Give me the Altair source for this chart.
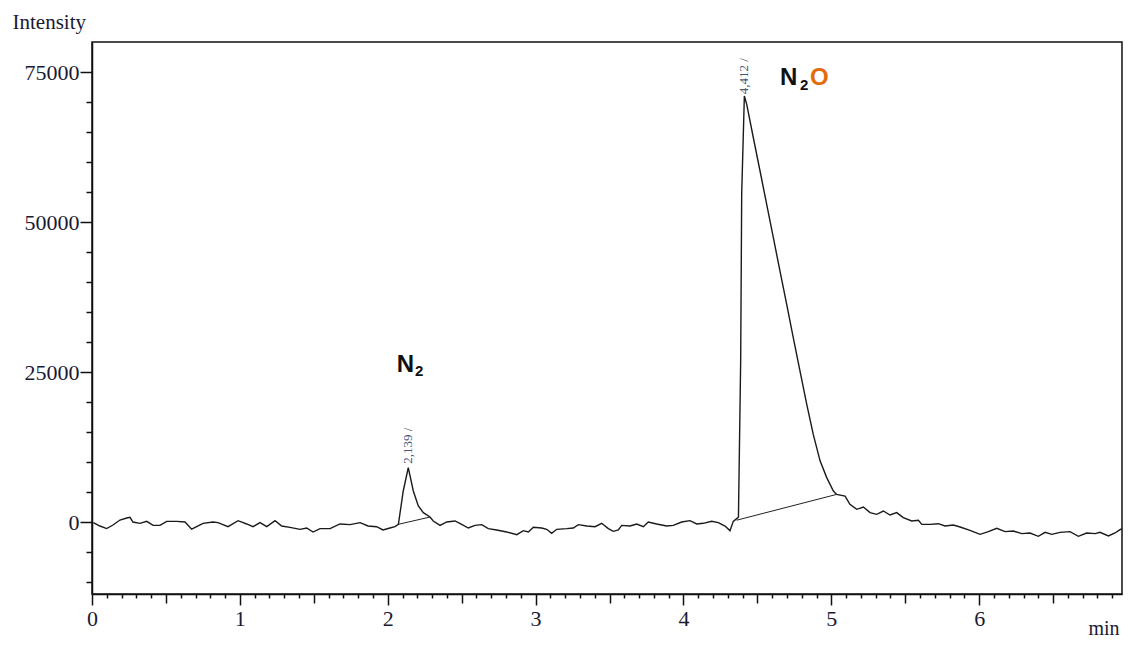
import altair as alt
import pandas as pd

# ---- chromatogram trace (min, intensity) ----
time_min = [0.009, 0.054, 0.099, 0.142, 0.189, 0.235, 0.257, 0.277, 0.325, 0.370,
            0.413, 0.460, 0.505, 0.573, 0.629, 0.674, 0.708, 0.751, 0.818, 0.852,
            0.920, 0.988, 1.046, 1.089, 1.136, 1.182, 1.238, 1.283, 1.339, 1.407,
            1.452, 1.495, 1.542, 1.610, 1.677, 1.745, 1.813, 1.867, 1.925, 1.968,
            2.015, 2.049, 2.072, 2.105, 2.139, 2.173, 2.207, 2.241, 2.286, 2.308,
            2.354, 2.399, 2.455, 2.500, 2.545, 2.590, 2.636, 2.680, 2.737, 2.805,
            2.873, 2.917, 2.951, 2.985, 3.041, 3.075, 3.109, 3.143, 3.210, 3.255,
            3.289, 3.346, 3.402, 3.447, 3.492, 3.526, 3.560, 3.582, 3.639, 3.684,
            3.729, 3.762, 3.819, 3.887, 3.931, 3.988, 4.044, 4.090, 4.134, 4.191,
            4.236, 4.281, 4.315, 4.337, 4.360, 4.372, 4.387, 4.394, 4.412, 4.428,
            4.473, 4.518, 4.563, 4.608, 4.653, 4.698, 4.743, 4.788, 4.834, 4.878,
            4.924, 4.969, 5.014, 5.036, 5.093, 5.126, 5.172, 5.217, 5.262, 5.307,
            5.352, 5.397, 5.442, 5.487, 5.544, 5.589, 5.612, 5.668, 5.724, 5.769,
            5.825, 5.871, 5.938, 6.006, 6.062, 6.119, 6.175, 6.231, 6.288, 6.344,
            6.400, 6.446, 6.491, 6.547, 6.614, 6.671, 6.727, 6.784, 6.817, 6.874,
            6.919, 6.950, 6.966]
intensity = [-100, -670, -1100, -500, 330, 670, 780, 0, -220, 110,
             -560, -560, 110, 110, 0, -1200, -780, -220, 0, -110,
             -780, 220, -330, -780, -110, -780, 220, -670, -890, -1220,
             -1000, -1670, -1110, -1110, -330, -440, -110, -670, -780, -1330,
             -1000, -780, -390, 5170, 9050, 5170, 2670, 1560, 830, 170,
             -560, 0, 170, -390, -1000, -560, -440, -1110, -1330, -1670,
             -2110, -1440, -1670, -890, -1000, -1220, -1890, -1220, -1110, -1000,
             -440, -670, -780, -220, -1110, -1560, -1330, -560, -670, -330,
             -780, 0, -330, -670, -560, 0, 220, -330, -220, 110,
             -110, -670, -1440, 110, 560, 800, 26800, 54700, 71000, 69600,
             64000, 58500, 52950, 47400, 41800, 36300, 30700, 25200, 19600, 14600,
             10200, 7400, 5170, 4600, 4330, 2950, 2110, 2500, 1560, 1280,
             1830, 1170, 1560, 720, 170, 280, -390, -390, -280, -670,
             -500, -830, -1390, -2050, -1610, -1060, -1610, -1500, -1940, -1830,
             -2390, -1720, -2060, -1720, -1610, -2390, -1830, -1940, -1720, -2330,
             -1830, -1300, -1100]

# ---- integration baselines under the peaks ----
bl_peak = ["N2", "N2", "N2O", "N2O"]
bl_time = [2.072, 2.286, 4.360, 5.036]
bl_value = [-390, 830, 300, 4600]

# ---- retention-time labels ----
rt_time = [2.139, 4.412]
rt_value = [9700, 71300]
rt_text = ["2,139 /", "4,412 /"]

# ---- compound labels (N2 and N2O) ----
big_text = ["N", "N", "O"]
big_time = [2.061, 4.653, 4.856]
big_value = [25050, 72830, 72830]
big_color = ["#111111", "#111111", "#E36C09"]
sub_text = ["2", "2"]
sub_time = [2.184, 4.788]
sub_value = [24330, 72000]

x_ticks = [round(i * 0.1, 1) for i in range(70)]
y_ticks = list(range(-10000, 80000, 5000))

trace = pd.DataFrame({"t": time_min, "v": intensity})
base = pd.DataFrame({"peak": bl_peak, "t": bl_time, "v": bl_value})
rts = pd.DataFrame({"t": rt_time, "v": rt_value, "txt": rt_text})
bigs = pd.DataFrame({"t": big_time, "v": big_value, "txt": big_text, "c": big_color})
subs = pd.DataFrame({"t": sub_time, "v": sub_value, "txt": sub_text})

SERIF = "Liberation Serif"
TXT = "#1a1a33"

x_scale = alt.Scale(domain=[0, 6.966], nice=False, zero=False)
y_scale = alt.Scale(domain=[-12000, 80000], nice=False, zero=False)

x_axis = alt.Axis(
    values=x_ticks, tickCount=500,
    labelExpr="round(datum.value*10) % 10 === 0 ? format(datum.value, 'd') : ''",
    tickSize={"condition": [
        {"test": "round(datum.value*10) % 10 === 0", "value": 11},
        {"test": "round(datum.value*10) % 5 === 0", "value": 9}],
        "value": 4},
    tickColor="#111111", tickWidth=1.5, domainColor="#111111", domainWidth=1.5,
    labelFont=SERIF, labelFontSize=22, labelColor=TXT, labelPadding=3,
    labelFlush=False, labelOverlap=False, labelBound=False, grid=False,
    title="min", titleFont=SERIF, titleFontSize=20, titleFontWeight="normal",
    titleColor=TXT, titleAlign="right", titleAnchor="end", titleX=1027, titleY=40,
    titleBaseline="alphabetic",
)
y_axis = alt.Axis(
    values=y_ticks, tickCount=500,
    labelExpr="datum.value % 25000 === 0 ? format(datum.value, 'd') : ''",
    tickSize={"condition": {"test": "datum.value % 25000 === 0", "value": 12}, "value": 6},
    tickColor="#111111", tickWidth=1.5, domainColor="#111111", domainWidth=1.5,
    labelFont=SERIF, labelFontSize=22, labelColor=TXT, labelPadding=1,
    labelFlush=False, labelOverlap=False, labelBound=False, grid=False,
    title="Intensity", titleFont=SERIF, titleFontSize=21, titleFontWeight="normal",
    titleColor=TXT, titleAngle=0, titleAlign="left", titleX=-80, titleY=-14,
    titleBaseline="alphabetic",
)

line = alt.Chart(trace).mark_line(color="#1a1a1a", strokeWidth=1.4, clip=True).encode(
    x=alt.X("t:Q", scale=x_scale, axis=x_axis),
    y=alt.Y("v:Q", scale=y_scale, axis=y_axis),
    order="t:Q",
)
baselines = alt.Chart(base).mark_line(color="#222222", strokeWidth=1.0).encode(
    x="t:Q", y="v:Q", detail="peak:N",
)
rt_labels = alt.Chart(rts).mark_text(
    angle=270, align="left", baseline="middle", font=SERIF, fontSize=13, color="#4b5570"
).encode(x="t:Q", y="v:Q", text="txt:N")
big_labels = alt.Chart(bigs).mark_text(
    align="left", baseline="alphabetic", font="Liberation Sans", fontWeight="bold", fontSize=24
).encode(x="t:Q", y="v:Q", text="txt:N", color=alt.Color("c:N", scale=None))
sub_labels = alt.Chart(subs).mark_text(
    align="left", baseline="alphabetic", font="Liberation Sans", fontWeight="bold", fontSize=15,
    color="#111111"
).encode(x="t:Q", y="v:Q", text="txt:N")

chart = alt.layer(line, baselines, rt_labels, big_labels, sub_labels).properties(
    width=1030, height=552,
    autosize=alt.AutoSizeParams(type="none"),
    padding={"left": 84, "top": 34, "right": 1, "bottom": 44},
    background="white",
).configure_view(stroke="#111111", strokeWidth=1.5)

chart.save("out.html", embed_options={"renderer": "svg", "actions": False})
